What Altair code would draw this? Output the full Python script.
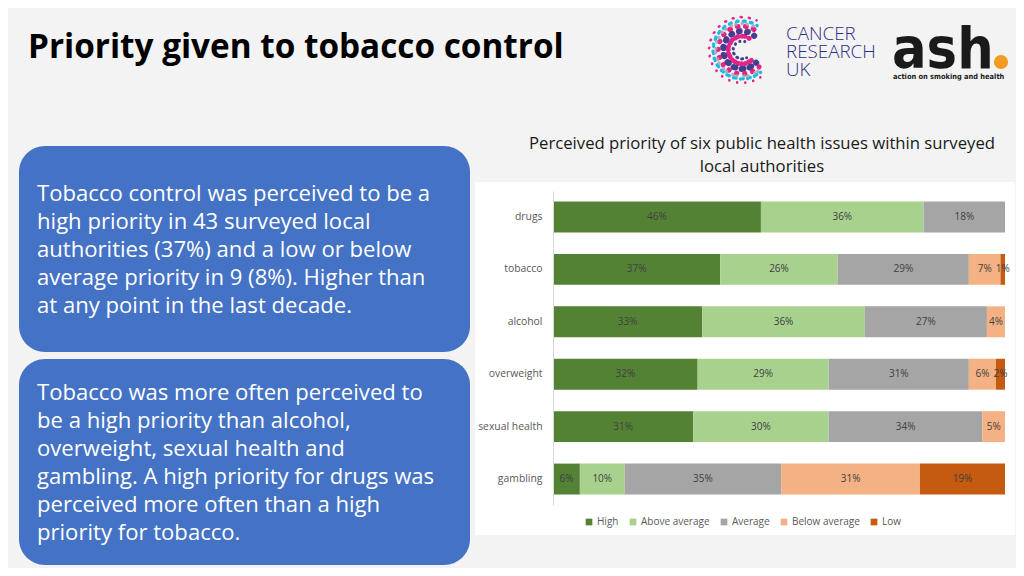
import altair as alt
import pandas as pd

# ---- data ----
issues = ["drugs", "tobacco", "alcohol", "overweight", "sexual health", "gambling"]
levels = ["High", "Above average", "Average", "Below average", "Low"]
high = [46, 37, 33, 32, 31, 6]
above = [36, 26, 36, 29, 30, 10]
average = [18, 29, 27, 31, 34, 35]
below = [0, 7, 4, 6, 5, 31]
low = [0, 1, 0, 2, 0, 19]
colors = ["#548235", "#A9D18E", "#A5A5A5", "#F4B183", "#C55A11"]

title_text = "Priority given to tobacco control"
chart_title = ["Perceived priority of six public health issues within surveyed", "local authorities"]
box1_lines = [
    "Tobacco control was perceived to be a",
    "high priority in 43 surveyed local",
    "authorities (37%) and a low or below",
    "average priority in 9 (8%). Higher than",
    "at any point in the last decade.",
]
box2_lines = [
    "Tobacco was more often perceived to",
    "be a high priority than alcohol,",
    "overweight, sexual health and",
    "gambling. A high priority for drugs was",
    "perceived more often than a high",
    "priority for tobacco.",
]
cruk_lines = ["CANCER", "RESEARCH", "UK"]

rows = []
for i, iss in enumerate(issues):
    for j, (lv, vals) in enumerate(zip(levels, [high, above, average, below, low])):
        rows.append({"issue": iss, "level": lv, "order": j, "value": vals[i]})
df = pd.DataFrame(rows)

FONT = "Open Sans"
COND = "DejaVu Sans Condensed, Roboto, sans-serif"
one = pd.DataFrame({"a": [0]})

# ---- decorations (pixel positions relative to plot origin) ----
panel = alt.Chart(one).mark_rect(color="white").encode(
    x=alt.value(-78), x2=alt.value(462), y=alt.value(-9), y2=alt.value(344)
)
box1 = alt.Chart(one).mark_rect(color="#4472C4", cornerRadius=26).encode(
    x=alt.value(-534), x2=alt.value(-83), y=alt.value(-45), y2=alt.value(161)
)
box2 = alt.Chart(one).mark_rect(color="#4472C4", cornerRadius=26).encode(
    x=alt.value(-534), x2=alt.value(-83), y=alt.value(168), y2=alt.value(374)
)
box1_text = alt.Chart(one).mark_text(
    align="left", baseline="alphabetic", font=FONT, fontSize=22.1, color="white",
    lineHeight=28, text=box1_lines
).encode(x=alt.value(-516), y=alt.value(10))
box2_text = alt.Chart(one).mark_text(
    align="left", baseline="alphabetic", font=FONT, fontSize=22.1, color="white",
    lineHeight=28, text=box2_lines
).encode(x=alt.value(-516), y=alt.value(209))

title = alt.Chart(one).mark_text(
    align="left", baseline="alphabetic", font=FONT, fontSize=33.3, fontWeight="bold",
    color="black", text=title_text
).encode(x=alt.value(-525), y=alt.value(-133))

ctitle = alt.Chart(one).mark_text(
    align="center", baseline="alphabetic", font=FONT, fontSize=16.7, color="#1a1a1a",
    lineHeight=23, text=chart_title
).encode(x=alt.value(209), y=alt.value(-42))

# logos (approximate): dotted "C" made of dashed arc rings
rings = [
    # radius, color, dot width, gap, theta start, theta end
    (9, "#2E2D84", 3, 5, 2.6, 6.6),
    (14, "#E40C7E", 5, 7, 2.4, 6.9),
    (19, "#2E2D84", 6, 8, 2.3, 7.0),
    (24, "#E40C7E", 5, 8, 2.35, 6.95),
    (29, "#00B6ED", 3.5, 7, 2.45, 6.85),
    (26.5, "#AAAAAA", 3.5, 11, 2.5, 6.8),
    (33, "#E40C7E", 2.5, 8, 2.55, 6.75),
]
logo_layers = []
for r, col, w, gap, t0, t1 in rings:
    logo_layers.append(
        alt.Chart(one).mark_arc(
            innerRadius=r - 0.3, outerRadius=r, theta=t0, theta2=t1,
            fillOpacity=0, stroke=col, strokeWidth=w, strokeDash=[0.1, gap],
            strokeCap="round", opacity=0.9
        ).encode(x=alt.value(189), y=alt.value(-141))
    )
cruk = alt.Chart(one).mark_text(
    align="left", baseline="alphabetic", font=FONT, fontSize=18.8, fontWeight=300,
    color="#2E2D84", lineHeight=18, text=cruk_lines
).encode(x=alt.value(233), y=alt.value(-151))
ash = alt.Chart(one).mark_text(
    align="left", baseline="alphabetic", font=COND, fontSize=57,
    fontWeight="bold", color="#1a1a1a", text="ash"
).encode(x=alt.value(339), y=alt.value(-123))
ash_dot = alt.Chart(one).mark_point(
    shape="circle", filled=True, size=200, color="#F39C21", opacity=1
).encode(x=alt.value(448), y=alt.value(-129))
ash_sub = alt.Chart(one).mark_text(
    align="left", baseline="alphabetic", font=COND, fontSize=7.4,
    fontWeight="bold", color="#1a1a1a", text="action on smoking and health"
).encode(x=alt.value(340), y=alt.value(-112))

# ---- bars ----
color_scale = alt.Scale(domain=levels, range=colors)
ysc = alt.Scale(domain=issues, paddingInner=0.41, paddingOuter=0.2)

base = alt.Chart(df).transform_stack(
    stack="value", groupby=["issue"], as_=["x0", "x1"], offset="normalize",
    sort=[alt.SortField("order", order="ascending")]
)

bars = base.mark_bar().encode(
    x=alt.X("x0:Q", axis=None, scale=alt.Scale(domain=[0, 1], nice=False)),
    x2="x1:Q",
    y=alt.Y("issue:N", scale=ysc, sort=issues, title=None,
            axis=alt.Axis(ticks=False, labelFontSize=10.4, labelColor="#595959",
                          labelFont=FONT, labelPadding=11, domainColor="#D9D9D9",
                          zindex=1)),
    color=alt.Color("level:N", scale=color_scale, title=None,
                    legend=alt.Legend(orient="none", direction="horizontal",
                                      legendX=31, legendY=326, symbolType="square",
                                      symbolSize=45, symbolStrokeWidth=0,
                                      labelFontSize=10, labelFont=FONT,
                                      labelColor="#595959", columnPadding=9,
                                      labelOffset=3, padding=0, zindex=1)),
)

labels = base.transform_filter("datum.value > 0").transform_calculate(
    mid="(datum.x0 + datum.x1) / 2", lab="datum.value + '%'"
).mark_text(font=FONT, fontSize=10, color="#404040").encode(
    x=alt.X("mid:Q"),
    y=alt.Y("issue:N", sort=issues),
    text="lab:N",
)

chart = alt.layer(
    panel, box1, box2, box1_text, box2_text, title, ctitle,
    *logo_layers, cruk, ash, ash_dot, ash_sub, bars, labels
).properties(
    width=452, height=314,
    autosize=alt.AutoSizeParams(type="none"),
    padding={"left": 545, "top": 183, "right": 11, "bottom": 63},
    background="#F3F3F3",
).configure_view(stroke=None)

chart.save("out.html", embed_options={"renderer": "svg", "actions": False})
